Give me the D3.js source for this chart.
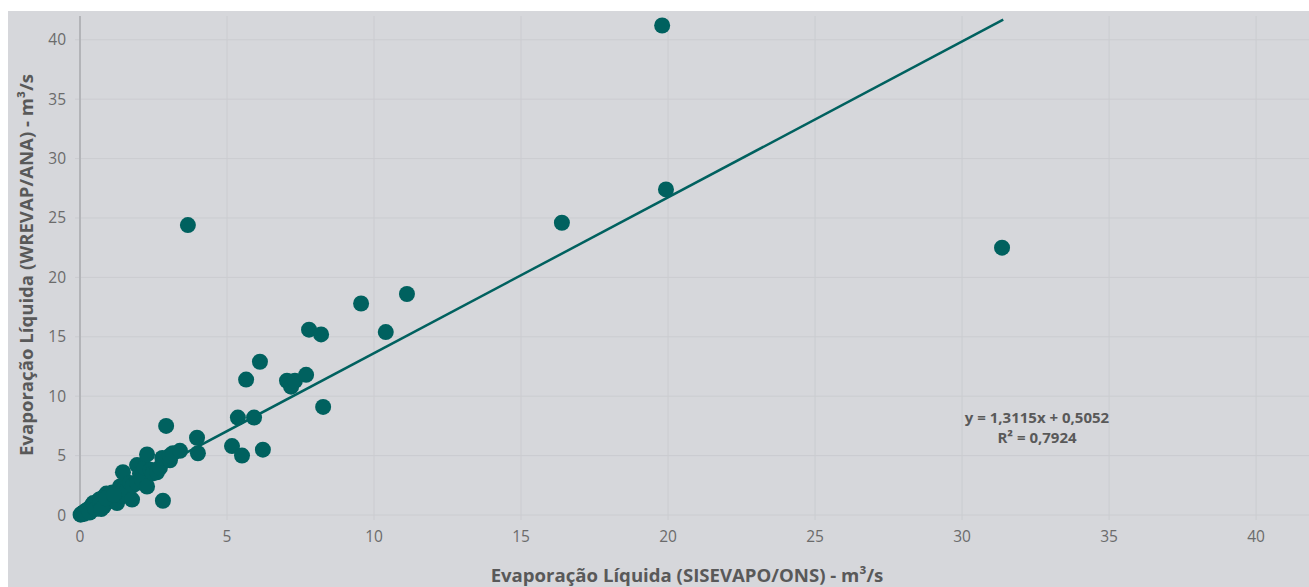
<!DOCTYPE html>
<html>
<head>
<meta charset="utf-8">
<script src="https://cdn.jsdelivr.net/npm/d3@7"></script>
<style>
  html, body { margin: 0; padding: 0; background: #fff; }
  svg { display: block; font-family: "Open Sans", "Noto Sans", sans-serif; }
</style>
</head>
<body>
<svg id="chart" width="1309" height="587"></svg>
<script>
// reservoir values: SISEVAPO/ONS (x) vs WREVAP/ANA (y), m³/s
const sisevapo = [
  0.02, 0.05, 0.08, 0.1, 0.12, 0.15, 0.18, 0.2, 0.22, 0.25, 0.3, 0.3, 0.35, 0.38, 0.4,
  0.42, 0.45, 0.5, 0.55, 0.6, 0.6, 0.65, 0.7, 0.75, 0.8, 0.8, 0.85, 0.9, 0.95, 1.0,
  1.05, 1.1, 1.2, 1.26, 1.3, 1.36, 1.4, 1.46, 1.5, 1.6, 1.7, 1.77, 1.8, 1.94, 1.94,
  2.04, 2.1, 2.2, 2.28, 2.28, 2.4, 2.48, 2.62, 2.72, 2.8, 2.82, 2.93, 3.06, 3.06, 3.16,
  3.4, 3.67, 3.98, 4.01, 5.17, 5.37, 5.51, 5.65, 5.92, 6.12, 6.22, 7.04, 7.18, 7.31,
  7.69, 7.79, 8.2, 8.27, 9.56, 10.4, 11.12, 16.39, 19.8, 19.93, 31.36,
  0.06, 0.14, 0.28, 0.33, 0.48, 0.52, 0.68, 0.72, 0.88, 1.15
];
const wrevap = [
  0.03, 0.08, 0.1, 0.15, 0.2, 0.18, 0.3, 0.25, 0.4, 0.35, 0.5, 0.3, 0.6, 0.45, 0.8,
  0.55, 1.0, 0.7, 0.9, 1.1, 0.6, 1.3, 0.9, 1.2, 1.5, 0.7, 1.0, 1.8, 1.3, 1.6,
  1.2, 1.9, 1.5, 1.0, 2.0, 2.4, 1.6, 3.6, 2.2, 2.1, 2.7, 1.3, 2.5, 2.7, 4.2,
  3.5, 3.0, 4.0, 2.4, 5.1, 3.8, 3.5, 3.6, 4.0, 4.8, 1.2, 7.5, 4.6, 5.0, 5.2,
  5.4, 24.4, 6.5, 5.2, 5.8, 8.2, 5.0, 11.4, 8.2, 12.9, 5.5, 11.3, 10.8, 11.3,
  11.8, 15.6, 15.2, 9.1, 17.8, 15.4, 18.6, 24.6, 41.2, 27.4, 22.5,
  0.12, 0.1, 0.45, 0.2, 0.85, 0.5, 1.05, 0.5, 1.4, 1.7
];
const xTicks = [0, 5, 10, 15, 20, 25, 30, 35, 40];
const yTicks = [0, 5, 10, 15, 20, 25, 30, 35, 40];
const slope = 1.3115;
const intercept = 0.5052;
const trendX = [0, 31.4];
const equationLines = ['y = 1,3115x + 0,5052', 'R² = 0,7924'];
const xTitle = 'Evaporação Líquida (SISEVAPO/ONS) - m³/s';
const yTitle = 'Evaporação Líquida (WREVAP/ANA) - m³/s';

const teal = '#00615f';
const svg = d3.select('#chart');

// gray panel
svg.append('rect')
  .attr('x', 8).attr('y', 11)
  .attr('width', 1301).attr('height', 576)
  .attr('fill', '#d6d7db');

const x = d3.scaleLinear().domain([0, 41.8]).range([80, 1309]);
const y = d3.scaleLinear().domain([0, 42]).range([515, 16]);

// grid
svg.append('g').selectAll('line').data(xTicks).enter().append('line')
  .attr('x1', d => x(d)).attr('x2', d => x(d))
  .attr('y1', y(42)).attr('y2', y(0) + 5)
  .attr('stroke', '#cbccd0').attr('stroke-width', 1);
svg.append('g').selectAll('line').data(yTicks).enter().append('line')
  .attr('x1', x(0) - 5).attr('x2', x(41.8))
  .attr('y1', d => y(d)).attr('y2', d => y(d))
  .attr('stroke', '#cbccd0').attr('stroke-width', 1);

// y axis line
svg.append('line')
  .attr('x1', x(0)).attr('x2', x(0))
  .attr('y1', y(42)).attr('y2', y(0))
  .attr('stroke', '#b3b4b8').attr('stroke-width', 2);

// tick labels
svg.append('g').selectAll('text').data(xTicks).enter().append('text')
  .attr('x', d => x(d)).attr('y', y(0) + 27)
  .attr('text-anchor', 'middle')
  .attr('font-size', 15.5).attr('fill', '#6b6b6b')
  .text(d => d);
svg.append('g').selectAll('text').data(yTicks).enter().append('text')
  .attr('x', x(0) - 14).attr('y', d => y(d) + 5.5)
  .attr('text-anchor', 'end')
  .attr('font-size', 15.5).attr('fill', '#6b6b6b')
  .text(d => d);

// trend line
svg.append('line')
  .attr('x1', x(trendX[0])).attr('y1', y(slope * trendX[0] + intercept))
  .attr('x2', x(trendX[1])).attr('y2', y(slope * trendX[1] + intercept))
  .attr('stroke', teal).attr('stroke-width', 2.5);

// points
const points = sisevapo.map((v, i) => ({ x: v, y: wrevap[i] }));
svg.append('g').selectAll('circle').data(points).enter().append('circle')
  .attr('cx', d => x(d.x)).attr('cy', d => y(d.y))
  .attr('r', 8)
  .attr('fill', teal);

// equation
svg.append('g').selectAll('text').data(equationLines).enter().append('text')
  .attr('x', 1037).attr('y', (d, i) => 423 + i * 20)
  .attr('text-anchor', 'middle')
  .attr('font-size', 15).attr('font-weight', 'bold').attr('fill', '#595959')
  .text(d => d);

// axis titles
svg.append('text')
  .attr('x', 687).attr('y', 582)
  .attr('text-anchor', 'middle')
  .attr('font-size', 18.6).attr('font-weight', 'bold').attr('fill', '#595959')
  .text(xTitle);
svg.append('text')
  .attr('transform', 'translate(33,265) rotate(-90)')
  .attr('text-anchor', 'middle')
  .attr('font-size', 18.6).attr('font-weight', 'bold').attr('fill', '#595959')
  .text(yTitle);
</script>
</body>
</html>
